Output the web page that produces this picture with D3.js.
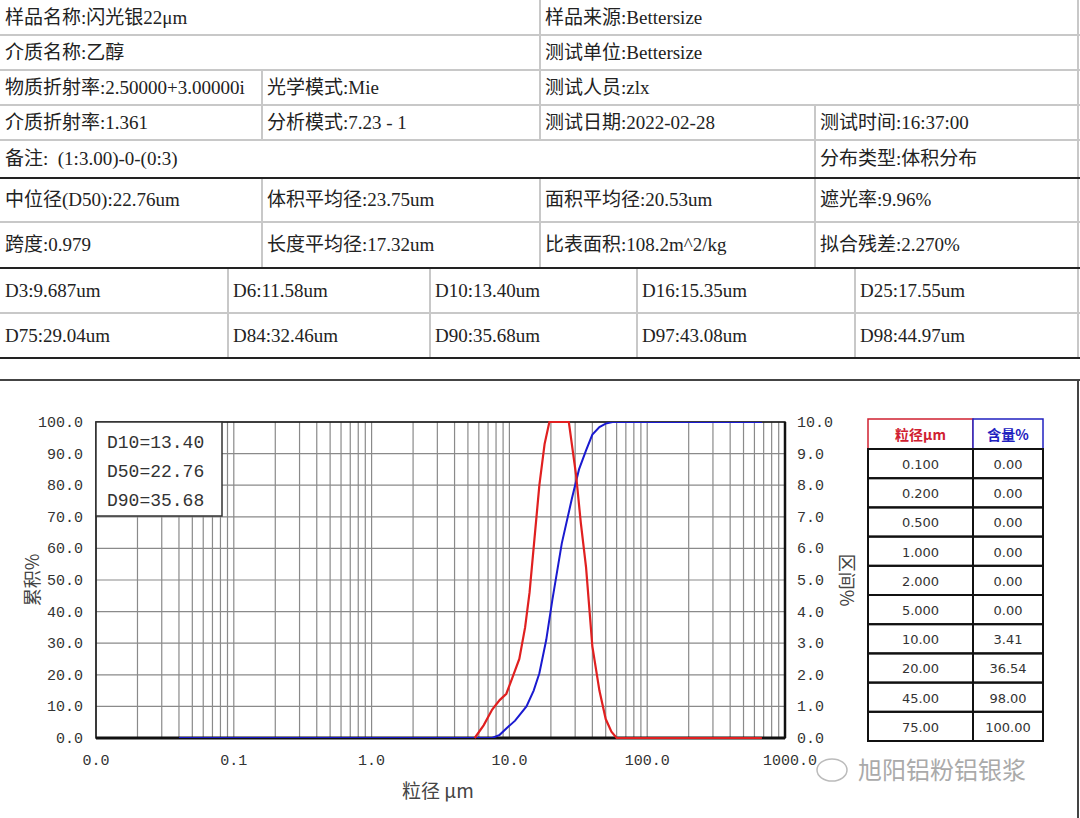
<!DOCTYPE html>
<html><head><meta charset="utf-8">
<script src="https://cdn.jsdelivr.net/npm/d3@7"></script>
<style>body{margin:0;background:#fff}svg{display:block}</style>
</head><body><svg id="c" width="1080" height="818"></svg>
<script>
// ---- data ----
const infoRows = [
  ["样品名称:闪光银22μm","样品来源:Bettersize"],
  ["介质名称:乙醇","测试单位:Bettersize"],
  ["物质折射率:2.50000+3.00000i","光学模式:Mie","测试人员:zlx"],
  ["介质折射率:1.361","分析模式:7.23 - 1","测试日期:2022-02-28","测试时间:16:37:00"],
  ["备注:  (1:3.00)-0-(0:3)","分布类型:体积分布"],
  ["中位径(D50):22.76um","体积平均径:23.75um","面积平均径:20.53um","遮光率:9.96%"],
  ["跨度:0.979","长度平均径:17.32um","比表面积:108.2m^2/kg","拟合残差:2.270%"],
  ["D3:9.687um","D6:11.58um","D10:13.40um","D16:15.35um","D25:17.55um"],
  ["D75:29.04um","D84:32.46um","D90:35.68um","D97:43.08um","D98:44.97um"]
];
const dLabels = ["D10=13.40","D50=22.76","D90=35.68"];
const xTickVals = [0.01,0.1,1,10,100,1000];
const xTickLabels = ["0.0","0.1","1.0","10.0","100.0","1000.0"];
const cumX = [0.04,7.5,8.5,9.5,11,13.3,15,16.5,18.5,20.5,24,28.5,32,36,40,45,50,56,680];
const cumY = [0,0,1,3,5.5,10,15,20.5,31,43.7,61.6,76,85,91,96,98.4,99.5,100,100];
const diffX = [5.6,6.5,7.5,8.5,9.5,10.5,11.8,13,14,15.2,16.5,18,19.5,27,30.5,33,36,40,45,50,55,60,680];
const diffY = [0,0.4,0.9,1.2,1.4,1.9,2.5,3.5,4.6,6.3,8.0,9.3,10,10,8.3,6.8,5.4,2.9,1.5,0.6,0.2,0,0];
const tblSize = ["0.100","0.200","0.500","1.000","2.000","5.000","10.00","20.00","45.00","75.00"];
const tblPct = ["0.00","0.00","0.00","0.00","0.00","0.00","3.41","36.54","98.00","100.00"];

const svg = d3.select("#c");
// ---- top info table ----
const rowY = [0,35,70,105,140,178,222,268,313,358];
const colX = [
  [0,540,1078],[0,540,1078],[0,262,540,1078],[0,262,540,815,1078],[0,815,1078],
  [0,262,540,815,1078],[0,262,540,815,1078],[0,228,430,637,855,1078],[0,228,430,637,855,1078]
];
const serif = "'Liberation Serif','Noto Sans CJK SC',serif";
infoRows.forEach((r,i)=>{
  const y0=rowY[i], y1=rowY[i+1];
  r.forEach((t,j)=>{
    const x=colX[i][j];
    svg.append("text").attr("x",x+5).attr("y",(y0+y1)/2+6).text(t).attr("xml:space","preserve").style("white-space","pre")
      .attr("font-family",serif).attr("font-size",19).attr("fill","#222");
    if(j>0) svg.append("line").attr("x1",x).attr("x2",x).attr("y1",y0).attr("y2",y1).attr("stroke","#c8c8c8").attr("stroke-width",2);
  });
  svg.append("line").attr("x1",1078).attr("x2",1078).attr("y1",y0).attr("y2",y1).attr("stroke","#c8c8c8").attr("stroke-width",2);
});
rowY.slice(1).forEach(y=>{
  const thick=[178,268,358].includes(y);
  svg.append("line").attr("x1",0).attr("x2",1080).attr("y1",y).attr("y2",y)
    .attr("stroke",thick?"#222":"#c8c8c8").attr("stroke-width",2);
});
svg.append("line").attr("x1",0).attr("x2",1080).attr("y1",380).attr("y2",380).attr("stroke","#444").attr("stroke-width",2);
svg.append("line").attr("x1",1078).attr("x2",1078).attr("y1",380).attr("y2",818).attr("stroke","#444").attr("stroke-width",2);

// ---- chart ----
const L=96,R=785,T=422,B=738;
const x=d3.scaleLog().domain([0.01,1000]).range([L,R]);
const yL=d3.scaleLinear().domain([0,100]).range([B,T]);
const yR=d3.scaleLinear().domain([0,10]).range([B,T]);
const mono="'Liberation Mono','DejaVu Sans Mono',monospace";
const g=svg.append("g");
const vx=[];
for(let d=0.01;d<1000;d*=10) for(let k=1;k<10;k++) vx.push(d*k);
vx.push(1000);
g.selectAll(".vg").data(vx).join("line").attr("x1",d=>x(d)).attr("x2",d=>x(d)).attr("y1",T).attr("y2",B).attr("stroke","#8a8a8a").attr("stroke-width",1.2);
g.selectAll(".hg").data(d3.range(0,101,10)).join("line").attr("x1",L).attr("x2",R).attr("y1",d=>yL(d)).attr("y2",d=>yL(d)).attr("stroke","#8a8a8a").attr("stroke-width",1.2);
g.append("rect").attr("x",L).attr("y",T).attr("width",R-L).attr("height",B-T).attr("fill","none").attr("stroke","#111").attr("stroke-width",1.5);
g.append("line").attr("x1",L).attr("x2",R).attr("y1",B).attr("y2",B).attr("stroke","#111").attr("stroke-width",3);
g.append("line").attr("x1",R).attr("x2",R).attr("y1",T).attr("y2",B).attr("stroke","#111").attr("stroke-width",2.5);
const ax=svg.append("g").attr("font-family",mono).attr("font-size",15).attr("fill","#333");
d3.range(0,101,10).forEach(v=>{
  ax.append("text").attr("x",83).attr("y",yL(v)+5).attr("text-anchor","end").text(v.toFixed(1));
});
d3.range(0,11,1).forEach(v=>{
  ax.append("text").attr("x",797).attr("y",yR(v)+5).text(v.toFixed(1));
});
xTickVals.forEach((v,i)=>{
  ax.append("text").attr("x",x(v)+(i==5?5:0)).attr("y",765).attr("text-anchor","middle").text(xTickLabels[i]);
});
svg.append("text").attr("x",438).attr("y",798).attr("text-anchor","middle").attr("font-family","'Noto Sans CJK SC'").attr("font-size",19).attr("fill","#444").text("粒径 μm");
svg.append("text").attr("transform","translate(39,580) rotate(-90)").attr("text-anchor","middle").attr("font-family","'Noto Sans CJK SC'").attr("font-size",18).attr("fill","#444").text("累积%");
svg.append("text").attr("transform","translate(840,580) rotate(90)").attr("text-anchor","middle").attr("font-family","'Noto Sans CJK SC'").attr("font-size",18).attr("fill","#444").text("区间%");
svg.append("clipPath").attr("id","pc").append("rect").attr("x",L).attr("y",T).attr("width",R-L).attr("height",B-T);
svg.append("path").datum(cumX.map((d,i)=>[d,cumY[i]])).attr("clip-path","url(#pc)")
  .attr("d",d3.line().x(d=>x(d[0])).y(d=>yL(d[1]))).attr("fill","none").attr("stroke","#1a1ad0").attr("stroke-width",2);
svg.append("path").datum(diffX.map((d,i)=>[d,diffY[i]]))
  .attr("d",d3.line().x(d=>x(d[0])).y(d=>yR(d[1]))).attr("fill","none").attr("stroke","#e02020").attr("stroke-width",2.2);
svg.append("rect").attr("x",L).attr("y",T).attr("width",126).attr("height",94).attr("fill","#fff").attr("stroke","#333").attr("stroke-width",1.5);
dLabels.forEach((t,i)=>svg.append("text").attr("x",107).attr("y",448+i*29).attr("font-family",mono).attr("font-size",18).attr("fill","#333").text(t));
const tx0=868,tx1=973,tx2=1043,ty0=419,th=29.2;
svg.append("rect").attr("x",tx0).attr("y",ty0).attr("width",tx1-tx0).attr("height",30).attr("fill","#fff").attr("stroke","#d02030").attr("stroke-width",1.5);
svg.append("rect").attr("x",tx1).attr("y",ty0).attr("width",tx2-tx1).attr("height",30).attr("fill","#fff").attr("stroke","#2020c0").attr("stroke-width",1.5);
svg.append("text").attr("x",(tx0+tx1)/2).attr("y",ty0+21).attr("text-anchor","middle").attr("font-family","'Noto Sans CJK SC'").attr("font-weight","bold").attr("font-size",14).attr("fill","#d02030").text("粒径μm");
svg.append("text").attr("x",(tx1+tx2)/2).attr("y",ty0+21).attr("text-anchor","middle").attr("font-family","'Noto Sans CJK SC'").attr("font-weight","bold").attr("font-size",14).attr("fill","#2020c0").text("含量%");
tblSize.forEach((s,i)=>{
  const y=ty0+30+i*th;
  svg.append("rect").attr("x",tx0).attr("y",y).attr("width",tx1-tx0).attr("height",th).attr("fill","none").attr("stroke","#111").attr("stroke-width",2);
  svg.append("rect").attr("x",tx1).attr("y",y).attr("width",tx2-tx1).attr("height",th).attr("fill","none").attr("stroke","#111").attr("stroke-width",2);
  svg.append("text").attr("x",(tx0+tx1)/2).attr("y",y+20).attr("text-anchor","middle").attr("font-family","'DejaVu Sans'").attr("font-size",13).attr("fill","#333").text(s);
  svg.append("text").attr("x",(tx1+tx2)/2).attr("y",y+20).attr("text-anchor","middle").attr("font-family","'DejaVu Sans'").attr("font-size",13).attr("fill","#333").text(tblPct[i]);
});
svg.append("text").attr("x",858).attr("y",779).attr("font-family","'Noto Sans CJK SC'").attr("font-size",24).attr("fill","#aaa").text("旭阳铝粉铝银浆");
svg.append("ellipse").attr("cx",832).attr("cy",770).attr("rx",15).attr("ry",11).attr("fill","none").attr("stroke","#bbb").attr("stroke-width",1.5);
</script></body></html>
